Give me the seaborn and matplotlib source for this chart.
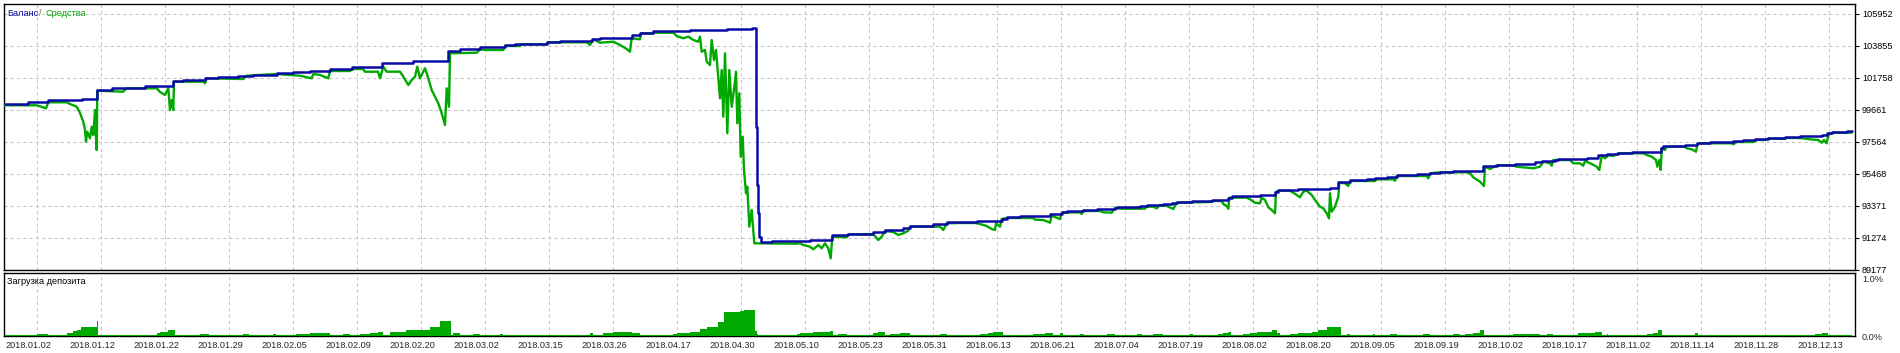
import matplotlib
matplotlib.use("Agg")
import matplotlib.pyplot as plt
import pandas as pd
import seaborn as sns

# ---------------- data ----------------
date_labels = ["2018.01.02", "2018.01.12", "2018.01.22", "2018.01.29", "2018.02.05",
               "2018.02.09", "2018.02.20", "2018.03.02", "2018.03.15", "2018.03.26",
               "2018.04.17", "2018.04.30", "2018.05.10", "2018.05.23", "2018.05.31",
               "2018.06.13", "2018.06.21", "2018.07.04", "2018.07.19", "2018.08.02",
               "2018.08.20", "2018.09.05", "2018.09.19", "2018.10.02", "2018.10.17",
               "2018.11.02", "2018.11.14", "2018.11.28", "2018.12.13"]

y_ticks = [89177, 91274, 93371, 95468, 97564, 99661, 101758, 103855, 105952]
load_ticks = [0.0, 1.0]
load_tick_labels = ["0.0%", "1.0%"]

balance_x = [5, 28.3, 48.3, 81.7, 96.7, 111.7, 145, 173.3, 183.3, 205, 218.3, 238.3,
             253.3, 276.7, 293.3, 310, 330, 351.7, 381.7, 413.3, 448.3, 460, 480, 505,
             515, 546.7, 560, 591.7, 600, 631.7, 640, 653.3, 690, 726.7, 751.7, 755.5,
             756.5, 757.5, 759, 760.7, 771.7, 796.7, 810, 831.7, 848.3, 873.3, 885,
             903.3, 910, 933.3, 946.7, 976.7, 1001.7, 1006.7, 1020, 1050, 1061.7,
             1066.7, 1083.3, 1096.7, 1115, 1116.7, 1140, 1146.7, 1163.3, 1171.7,
             1176.7, 1191.7, 1211.7, 1228.3, 1231.7, 1260, 1275, 1278.3, 1298.3, 1330,
             1338.3, 1340, 1350, 1366.7, 1375, 1386.7, 1396.7, 1416.7, 1430, 1440,
             1453.3, 1483.3, 1496.7, 1515, 1535, 1541.7, 1555, 1558.3, 1586.7, 1598,
             1606.7, 1618.3, 1631.7, 1660.7, 1663.3, 1685, 1696.7, 1710, 1733.3,
             1743.3, 1755, 1768.3, 1785, 1800, 1821.7, 1826.7, 1831.7, 1846.7, 1851.7]
balance_y = [100074, 100166, 100297, 100362, 100972, 101103, 101254, 101542, 101627,
             101738, 101843, 101909, 101955, 102066, 102151, 102217, 102348, 102479,
             102761, 102852, 103508, 103658, 103809, 103940, 104006, 104117, 104183,
             104314, 104399, 104596, 104727, 104838, 104904, 104969, 105054, 98567,
             94746, 92912, 91358, 90991, 91057, 91096, 91162, 91440, 91555, 91666,
             91817, 91929, 92060, 92171, 92302, 92407, 92518, 92649, 92715, 92826,
             92957, 93043, 93108, 93174, 93259, 93305, 93370, 93436, 93521, 93586,
             93632, 93698, 93763, 93914, 94026, 94091, 94307, 94419, 94484, 94550,
             94923, 94963, 95074, 95140, 95205, 95271, 95382, 95467, 95552, 95618,
             95664, 95991, 96077, 96142, 96234, 96299, 96385, 96470, 96535, 96693,
             96778, 96843, 96909, 97191, 97282, 97348, 97479, 97545, 97610, 97676,
             97741, 97807, 97872, 97938, 98003, 98134, 98219, 98285, 98285]

equity_x = [5, 36.7, 46, 48.3, 66.7, 70, 76.7, 80, 83.3, 85, 86, 87.3, 90, 91.7, 93.3,
            95, 96, 96.7, 97.3, 123, 126.7, 156.7, 160, 165, 168.3, 170, 171.7, 173.3,
            174, 203.3, 205, 206.7, 243.3, 246.7, 276.7, 300, 311.7, 313.3, 320, 328.3,
            330, 350, 353, 363, 365, 378, 380, 383.3, 386.7, 400, 403.3, 408.3, 411.7,
            415, 417.3, 420, 425, 428.3, 431.7, 435, 438.3, 441.7, 445, 446.7, 449, 450,
            476.7, 480, 486.7, 503.3, 505, 520, 521.7, 546.7, 548, 586.7, 590, 593.3,
            600, 613.3, 620, 626.7, 630, 631.7, 640, 641, 653.3, 655, 673.3, 676.7,
            683.3, 688.3, 693.3, 698.3, 700, 701.7, 705, 706.7, 710, 711.7, 714, 716,
            718.3, 720, 721.7, 723.3, 725, 727.3, 729.3, 731.7, 734, 736, 737.3, 739.3,
            740.7, 742.7, 744, 746, 747.3, 749.3, 751.7, 753.3, 754.3, 796.7, 800,
            803.3, 810, 813.3, 818.3, 821.7, 825, 828.3, 830.7, 832.3, 846.7, 848.3,
            873.3, 875, 878.3, 881.7, 885, 893.3, 898.3, 903.3, 908.3, 910, 940, 941.7,
            943.3, 946.7, 960, 975, 980, 986.7, 991.7, 995, 996, 1000, 1001.7, 1006.7,
            1033.3, 1035, 1043.3, 1050, 1051.7, 1060, 1061.7, 1080, 1081.7, 1083.3,
            1100, 1103.3, 1111.7, 1115, 1120, 1145, 1146.7, 1153.3, 1156.7, 1160,
            1166.7, 1173.3, 1176.7, 1210, 1213.3, 1221.7, 1223.3, 1226.7, 1228.3,
            1229.3, 1246.7, 1250, 1255, 1260, 1261.7, 1265, 1268.3, 1271.7, 1275, 1276,
            1280, 1290, 1293.3, 1300, 1303.3, 1306.7, 1311.7, 1315, 1320, 1323.3,
            1326.7, 1329, 1330, 1331.7, 1335, 1336.7, 1338.3, 1339.3, 1345, 1348.3,
            1350, 1375, 1376.7, 1393.3, 1395, 1396.7, 1426.7, 1428.3, 1430, 1440,
            1466.7, 1470, 1473.3, 1480, 1484, 1485, 1490, 1496.7, 1513.3, 1516.7,
            1523.3, 1533.3, 1540, 1543.3, 1550, 1551.7, 1553.3, 1570, 1573.3, 1580,
            1583.3, 1585, 1591.7, 1596.7, 1599.3, 1601.7, 1605, 1608.3, 1613.3, 1618.3,
            1643.3, 1646.7, 1651.7, 1656, 1657.3, 1659.3, 1660.7, 1661.7, 1665, 1666.7,
            1685, 1686.7, 1691.7, 1696, 1697.3, 1700, 1731.7, 1733.3, 1736.7, 1753.3,
            1756.7, 1765, 1768.3, 1783.3, 1786.7, 1800, 1810, 1818.3, 1821.7, 1824,
            1826.7, 1828.3, 1833.3, 1851.7]
equity_y = [99969, 99969, 99772, 100166, 100166, 100054, 99877, 99465, 98894, 98351,
            97584, 98239, 97807, 98567, 98023, 99661, 97912, 97040, 100926, 100860,
            101083, 101083, 100841, 100644, 101083, 99661, 100316, 99661, 101516,
            101516, 101411, 101738, 101692, 101909, 102020, 101909, 101738, 102020,
            101955, 101738, 102217, 102217, 102348, 102348, 102171, 102171, 101738,
            102499, 102171, 102171, 101843, 101299, 101627, 101843, 102499, 101738,
            102394, 101738, 100972, 100533, 100100, 99445, 98678, 101083, 99877,
            103377, 103416, 103639, 103593, 103593, 103855, 103855, 103966, 103966,
            104098, 104098, 103921, 104294, 104071, 104137, 103921, 103658, 103481,
            104360, 104294, 104687, 104687, 104727, 104727, 104510, 104360, 104465,
            104248, 104137, 104465, 103481, 103593, 102826, 102610, 104248, 102938,
            103593, 101738, 100428, 102282, 99222, 103377, 98134, 102282, 99877,
            100972, 102171, 98790, 100756, 96601, 97912, 95729, 94202, 94635, 92014,
            93108, 91798, 90926, 90900, 90926, 90815, 90703, 90533, 90815, 90598,
            90926, 90598, 89943, 91358, 91319, 91516, 91516, 91404, 91142, 91358,
            91732, 91666, 91470, 91581, 91752, 92014, 92014, 91909, 91798, 92237,
            92256, 92256, 92191, 92060, 91863, 91798, 92237, 92014, 92518, 92584,
            92584, 92473, 92453, 92276, 92735, 92518, 92931, 92957, 92846, 93043,
            93043, 92957, 92931, 93259, 93193, 93193, 93324, 93324, 93220, 93436,
            93370, 93174, 93586, 93632, 93698, 93698, 93501, 93370, 93193, 93914,
            93914, 93809, 93586, 93547, 93914, 93763, 93285, 93108, 92892, 94307,
            94373, 94373, 94242, 93940, 94307, 94373, 94091, 93763, 93324, 93220,
            92892, 92564, 94203, 92997, 93324, 93652, 93980, 94897, 94858, 94681,
            95009, 95009, 95120, 95120, 95028, 95336, 95336, 95185, 95513, 95579,
            95579, 95513, 95251, 94963, 94681, 95946, 95795, 96037, 96037, 95946,
            95906, 95841, 95946, 96273, 96168, 96011, 96385, 96385, 96168, 96168,
            96011, 96319, 96122, 95946, 95729, 96647, 96496, 96693, 96647, 96824,
            96824, 96712, 96601, 96385, 95946, 96385, 95729, 97151, 97040, 97256,
            97256, 97151, 97086, 96929, 97413, 97479, 97479, 97413, 97564, 97564,
            97695, 97695, 97780, 97780, 97826, 97826, 97741, 97695, 97518, 97695,
            97479, 98023, 98174, 98174]

load_x = [5, 37, 48, 67, 73, 77, 81, 97, 98, 157, 160, 168, 175, 200, 209, 243, 249,
          273, 276, 296, 310, 330, 343, 350, 360, 370, 378, 383, 390, 406, 430, 440,
          451, 453, 460, 473, 480, 500, 503, 590, 593, 603, 613, 632, 640, 673, 677,
          690, 700, 707, 718, 724, 740, 744, 755, 757, 758, 797, 800, 813, 830, 833,
          838, 847, 873, 878, 885, 890, 900, 910, 940, 947, 980, 988, 993, 1003, 1033,
          1045, 1053, 1060, 1063, 1080, 1084, 1107, 1115, 1137, 1142, 1153, 1163,
          1190, 1193, 1218, 1223, 1228, 1231, 1243, 1250, 1257, 1272, 1277, 1280,
          1290, 1298, 1312, 1318, 1327, 1341, 1347, 1350, 1373, 1375, 1390, 1397,
          1423, 1430, 1453, 1460, 1465, 1473, 1480, 1484, 1497, 1500, 1513, 1540,
          1547, 1553, 1578, 1595, 1602, 1607, 1608, 1647, 1653, 1658, 1662, 1695,
          1698, 1815, 1822, 1828, 1852]
load_y = [0.015, 0.035, 0.015, 0.06, 0.08, 0.11, 0.16, 0.26, 0.015, 0.045, 0.07, 0.11,
          0.015, 0.035, 0.015, 0.03, 0.015, 0.03, 0.015, 0.035, 0.05, 0.015, 0.03,
          0.015, 0.035, 0.05, 0.07, 0.015, 0.07, 0.10, 0.155, 0.26, 0.015, 0.045,
          0.015, 0.035, 0.015, 0.035, 0.015, 0.045, 0.015, 0.055, 0.065, 0.045, 0.015,
          0.035, 0.05, 0.065, 0.12, 0.155, 0.245, 0.42, 0.43, 0.45, 0.09, 0.04, 0.015,
          0.035, 0.05, 0.065, 0.09, 0.015, 0.035, 0.015, 0.05, 0.065, 0.015, 0.04,
          0.05, 0.015, 0.035, 0.015, 0.035, 0.05, 0.07, 0.015, 0.035, 0.05, 0.015,
          0.05, 0.015, 0.03, 0.015, 0.03, 0.015, 0.03, 0.015, 0.03, 0.015, 0.03,
          0.015, 0.03, 0.05, 0.07, 0.015, 0.035, 0.05, 0.07, 0.10, 0.05, 0.015, 0.035,
          0.045, 0.065, 0.10, 0.155, 0.015, 0.03, 0.015, 0.03, 0.015, 0.035, 0.015,
          0.035, 0.015, 0.03, 0.015, 0.035, 0.06, 0.10, 0.015, 0.025, 0.015, 0.035,
          0.015, 0.035, 0.015, 0.045, 0.065, 0.015, 0.03, 0.015, 0.03, 0.05, 0.10,
          0.015, 0.045, 0.015, 0.03, 0.05, 0.015, 0.015]

# ---------------- style ----------------
sns.set_style("white")
plt.rcParams['font.family'] = ['Liberation Sans', 'DejaVu Sans']

BLUE = "#0A0AA6"
GREEN = "#00A800"
GRID = "#C4C4C4"
FS = 6.6

W, H = 1900, 353
fig = plt.figure(figsize=(W / 100, H / 100), dpi=100)
fig.patch.set_facecolor("white")
ax = fig.add_axes([4 / W, 1 - 270 / H, 1851 / W, 266 / H])
ax2 = fig.add_axes([4 / W, 1 - 336 / H, 1851 / W, 63.5 / H])

eq_df = pd.DataFrame({"x": equity_x, "y": equity_y})
bal_df = pd.DataFrame({"x": balance_x, "y": balance_y})

sns.lineplot(data=eq_df, x="x", y="y", ax=ax, color=GREEN, lw=1.7,
             sort=False, estimator=None, zorder=3)
sns.lineplot(data=bal_df, x="x", y="y", ax=ax, color=BLUE, lw=1.8,
             sort=False, estimator=None, drawstyle="steps-post", zorder=4)

ax2.fill_between(load_x, load_y, step="post", color=GREEN, lw=0, zorder=3)

label_pos = [5 + 64 * i for i in range(len(date_labels))]
grid_pos = [5 + 32 * i for i in range(2 * len(date_labels))]

for a in (ax, ax2):
    a.set_xlim(4, 1855)
    a.set_xlabel("")
    a.set_ylabel("")
    a.set_facecolor("white")
    for s in a.spines.values():
        s.set_color("black")
        s.set_linewidth(1.0)
        s.set_visible(True)
    a.yaxis.tick_right()
    a.set_xticks(grid_pos, minor=True)
    a.tick_params(which="minor", length=0)
    a.grid(True, which="minor", axis="x", color=GRID, ls=(0, (3, 3)), lw=0.75)

ax.set_ylim(89176, 106607)
ax.set_yticks(y_ticks)
ax.set_yticklabels([str(v) for v in y_ticks])
ax.grid(True, which="major", axis="y", color=GRID, ls=(0, (3, 3)), lw=0.75)
ax.set_xticks(label_pos)
ax.set_xticklabels([])
ax.tick_params(axis="x", which="major", length=0)
ax.tick_params(axis="y", direction="out", length=3, width=0.8, pad=2,
               labelsize=FS, colors="black")

ax2.set_ylim(0, 1.095)
ax2.set_yticks(load_ticks)
ax2.set_yticklabels(load_tick_labels)
ax2.tick_params(axis="y", direction="out", length=0, pad=5, labelsize=FS)
ax2.set_xticks(label_pos)
ax2.set_xticklabels(date_labels)
ax2.tick_params(axis="x", which="major", direction="out", length=3, width=0.8,
                pad=0.5, labelsize=FS)
for lbl in ax2.get_xticklabels():
    lbl.set_horizontalalignment("left")

# legend-like captions
ax.annotate("Баланс", xy=(0, 1), xycoords="axes fraction", xytext=(3, -9.5),
            textcoords="offset pixels", color=BLUE, fontsize=FS, va="center")
ax.annotate("/", xy=(0, 1), xycoords="axes fraction", xytext=(35, -9.5),
            textcoords="offset pixels", color="#8a6d2e", fontsize=FS, va="center")
ax.annotate("Средства", xy=(0, 1), xycoords="axes fraction", xytext=(42, -9.5),
            textcoords="offset pixels", color=GREEN, fontsize=FS, va="center")
ax2.annotate("Загрузка депозита", xy=(0, 1), xycoords="axes fraction",
             xytext=(3, -9), textcoords="offset pixels", color="black",
             fontsize=FS, va="center")

fig.savefig("out.png", dpi=100, facecolor="white")
